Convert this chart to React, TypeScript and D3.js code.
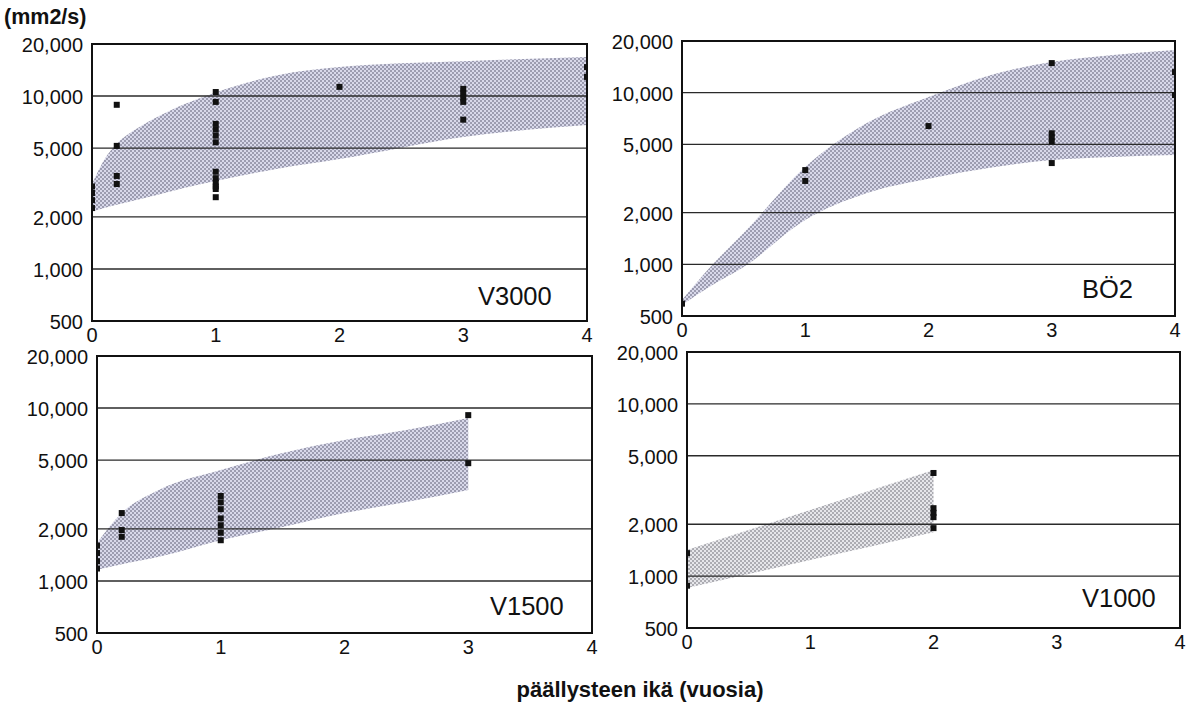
import React from "react";
import * as d3 from "d3";

// ---------- data ----------
const xTicks = [0, 1, 2, 3, 4];
const yTicks = [500, 1000, 2000, 5000, 10000, 20000];
const yGrid = [1000, 2000, 5000, 10000];
const unitLabel = "(mm2/s)";
const xTitle = "päällysteen ikä (vuosia)";

// V3000
const v3000BandX = [0, 0.1, 0.2, 0.35, 0.5, 0.75, 1, 1.5, 2, 3, 4];
const v3000Upper = [3100, 4300, 5300, 6400, 7400, 9000, 10500, 13200, 14700, 15900, 16800];
const v3000Lower = [2150, 2250, 2350, 2500, 2650, 2950, 3230, 3800, 4320, 5800, 6800];
const v3000PtsX = [0, 0, 0, 0, 0.2, 0.2, 0.2, 0.2, 1, 1, 1, 1, 1, 1, 1, 1, 1, 1, 1, 1, 2, 3, 3, 3, 3, 3, 4, 4];
const v3000PtsY = [3000, 2750, 2500, 2250, 8900, 5150, 3450, 3100, 10550, 9250, 6900, 6400, 5900, 5400, 3650, 3350, 3150, 3000, 2900, 2600, 11300, 11000, 10400, 9800, 9250, 7300, 14700, 12900];

// BÖ2
const bo2BandX = [0, 0.25, 0.5, 1, 1.5, 2, 2.5, 3, 3.5, 4];
const bo2Upper = [620, 1000, 1520, 3690, 6650, 9430, 12650, 15100, 16560, 17700];
const bo2Lower = [580, 760, 964, 1810, 2600, 3150, 3650, 4050, 4220, 4330];
const bo2PtsX = [0, 1, 1, 2, 3, 3, 3, 3, 3, 4, 4];
const bo2PtsY = [590, 3540, 3060, 6390, 14870, 5800, 5500, 5200, 3890, 13180, 9690];

// V1500
const v1500BandX = [0, 0.2, 0.5, 1, 1.5, 2, 2.5, 3];
const v1500Upper = [1660, 2470, 3360, 4380, 5490, 6530, 7460, 8760];
const v1500Lower = [1160, 1250, 1380, 1720, 2050, 2470, 2860, 3360];
const v1500PtsX = [0, 0, 0, 0, 0.2, 0.2, 0.2, 1, 1, 1, 1, 1, 1, 1, 3, 3];
const v1500PtsY = [1600, 1450, 1300, 1180, 2470, 1970, 1800, 3100, 2850, 2600, 2300, 2100, 1900, 1720, 9100, 4800];

// V1000
const v1000BandX = [0, 1, 2];
const v1000Upper = [1420, 2420, 4130];
const v1000Lower = [853, 1240, 1800];
const v1000PtsX = [0, 0, 2, 2, 2, 2, 2];
const v1000PtsY = [1360, 880, 3970, 2480, 2330, 2200, 1900];

// ---------- layout ----------
const FONT = "'Liberation Sans', Arial, sans-serif";

type PanelDef = {
  name: string;
  left: number; right: number; top: number; bottom: number;
  bandX: number[]; upper: number[]; lower: number[];
  ptsX: number[]; ptsY: number[];
  pattern: string;
  labelX: number; labelY: number;
};

const panels: PanelDef[] = [
  { name: "V3000", left: 92, right: 587, top: 44, bottom: 321, bandX: v3000BandX, upper: v3000Upper, lower: v3000Lower, ptsX: v3000PtsX, ptsY: v3000PtsY, pattern: "pb", labelX: 478, labelY: 305 },
  { name: "BÖ2", left: 682, right: 1175, top: 41, bottom: 316, bandX: bo2BandX, upper: bo2Upper, lower: bo2Lower, ptsX: bo2PtsX, ptsY: bo2PtsY, pattern: "pb", labelX: 1082, labelY: 298 },
  { name: "V1500", left: 97, right: 592, top: 356, bottom: 633, bandX: v1500BandX, upper: v1500Upper, lower: v1500Lower, ptsX: v1500PtsX, ptsY: v1500PtsY, pattern: "pb", labelX: 490, labelY: 615 },
  { name: "V1000", left: 687, right: 1180, top: 352, bottom: 628, bandX: v1000BandX, upper: v1000Upper, lower: v1000Lower, ptsX: v1000PtsX, ptsY: v1000PtsY, pattern: "pg", labelX: 1082, labelY: 607 },
];

function Panel({ p, idx }: { p: PanelDef; idx: number }) {
  const x = d3.scaleLinear().domain([0, 4]).range([p.left, p.right]);
  const y = d3.scaleLog().domain([500, 20000]).range([p.bottom, p.top]);
  const band = p.bandX.map((bx, i) => ({ x: bx, lo: p.lower[i], hi: p.upper[i] }));
  const area = d3
    .area<{ x: number; lo: number; hi: number }>()
    .x((d) => x(d.x))
    .y0((d) => y(d.lo))
    .y1((d) => y(d.hi))
    .curve(d3.curveMonotoneX);
  const clipId = `clip${idx}`;
  const sq = 6;
  return (
    <g>
      <defs>
        <clipPath id={clipId}>
          <rect x={p.left} y={p.top} width={p.right - p.left} height={p.bottom - p.top} />
        </clipPath>
      </defs>
      <g clipPath={`url(#${clipId})`}>
        <path d={area(band) || ""} fill={`url(#${p.pattern})`} />
      </g>
      {yGrid.map((t) => (
        <line key={t} x1={p.left} x2={p.right} y1={y(t)} y2={y(t)} stroke="#2a2a2a" strokeWidth={1.4} />
      ))}
      <g clipPath={`url(#${clipId})`}>
        {p.ptsX.map((px, i) => (
          <rect key={i} x={x(px) - sq / 2} y={y(p.ptsY[i]) - sq / 2} width={sq} height={sq} fill="#111" />
        ))}
      </g>
      <rect x={p.left} y={p.top} width={p.right - p.left} height={p.bottom - p.top} fill="none" stroke="#111" strokeWidth={2} />
      {yTicks.map((t) => (
        <text key={t} x={p.left - 9} y={y(t) + 8} textAnchor="end" fontFamily={FONT} fontSize={20} fill="#111">
          {d3.format(",")(t)}
        </text>
      ))}
      {xTicks.map((t) => (
        <text key={t} x={x(t)} y={p.bottom + 21} textAnchor="middle" fontFamily={FONT} fontSize={20} fill="#111">
          {t}
        </text>
      ))}
      <text x={p.labelX} y={p.labelY} fontFamily={FONT} fontSize={25.5} fill="#111">
        {p.name}
      </text>
    </g>
  );
}

export default function App() {
  return (
    <svg
      width={1194}
      height={703}
      viewBox="0 0 1194 703"
      style={{ position: "absolute", left: 0, top: 0, background: "#fff" }}
    >
      <defs>
        <pattern id="pb" width={4} height={4} patternUnits="userSpaceOnUse">
          <rect width={4} height={4} fill="#d8d8ea" />
          <rect x={0} y={0} width={2} height={2} fill="#9c9cb0" />
          <rect x={2} y={2} width={2} height={2} fill="#9c9cb0" />
        </pattern>
        <pattern id="pg" width={4} height={4} patternUnits="userSpaceOnUse">
          <rect width={4} height={4} fill="#e6e6ea" />
          <rect x={0} y={0} width={2} height={2} fill="#acacb2" />
          <rect x={2} y={2} width={2} height={2} fill="#acacb2" />
        </pattern>
      </defs>
      <rect width={1194} height={703} fill="#fff" />
      <text x={4} y={24} fontFamily={FONT} fontWeight="bold" fontSize={21.5} fill="#111">
        {unitLabel}
      </text>
      {panels.map((p, i) => (
        <Panel key={p.name} p={p} idx={i} />
      ))}
      <text x={640} y={697} textAnchor="middle" fontFamily={FONT} fontWeight="bold" fontSize={22} fill="#111">
        {xTitle}
      </text>
    </svg>
  );
}
